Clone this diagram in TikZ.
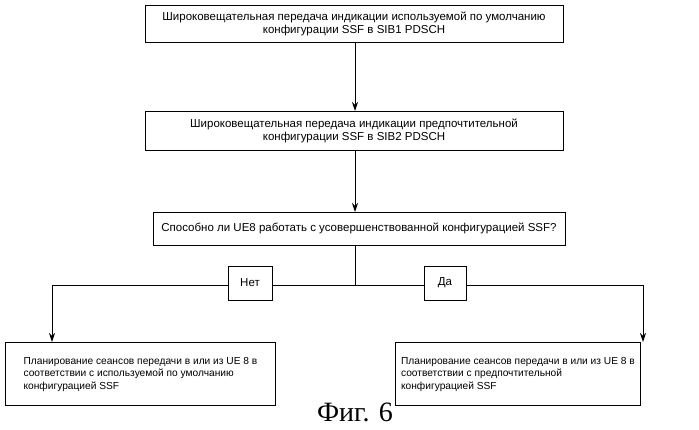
\documentclass[tikz,border=0pt]{standalone}
\usepackage{fontspec}
\setmainfont{Liberation Sans}
\newfontfamily\capfont{Liberation Serif}
\usetikzlibrary{arrows.meta}
\begin{document}
\begin{tikzpicture}[x=1pt,y=-1pt,
  box/.style={draw,line width=1pt,align=center,inner sep=2pt,font=\fontsize{11.5}{13}\selectfont},
  lbox/.style={draw,line width=1pt,align=left,inner sep=3pt,anchor=north west,font=\fontsize{10.2}{12.5}\selectfont},
  arr/.style={line width=1pt,-{Stealth[length=9pt,width=6pt]}},
  ln/.style={line width=1pt}]
\useasboundingbox (0,0) rectangle (699,429);
\node[box,minimum width=418,minimum height=37] (b1) at (354,23.5) {Широковещательная передача индикации используемой по умолчанию\\конфигурации SSF в SIB1 PDSCH};
\node[box,minimum width=418,minimum height=39] (b2) at (354,130.5) {Широковещательная передача индикации предпочтительной\\конфигурации SSF в SIB2 PDSCH};
\node[box,minimum width=412,minimum height=33] (b3) at (359,228.5) {Способно ли UE8 работать с усовершенствованной конфигурацией SSF?};
\node[lbox,minimum width=270,minimum height=63] (b4) at (5,342) {Планирование сеансов передачи в или из UE 8 в\\соответствии с используемой по умолчанию\\конфигурацией SSF};
\node[lbox,minimum width=245,minimum height=63] (b5) at (395,342) {Планирование сеансов передачи в или из UE 8 в\\соответствии с предпочтительной\\конфигурацией SSF};
\coordinate (j) at (355,285);
\coordinate (l) at (52,285);
\coordinate (r) at (643,285);
\draw[arr] (355,42) -- (355,111);
\draw[arr] (355,150) -- (355,212);
\draw[ln] (355,245) -- (j);
\draw[ln] (l) -- (r);
\draw[arr] (l) -- (52,342);
\draw[arr] (r) -- (643,342);
\node[box,fill=white,minimum width=44,minimum height=34] (no) at (250,283) {Нет};
\node[box,fill=white,minimum width=42,minimum height=34] (yes) at (445,283) {Да};
\node[font=\capfont\fontsize{28}{30}\selectfont] (cap) at (355,412) {Фиг. 6};
\end{tikzpicture}
\end{document}
